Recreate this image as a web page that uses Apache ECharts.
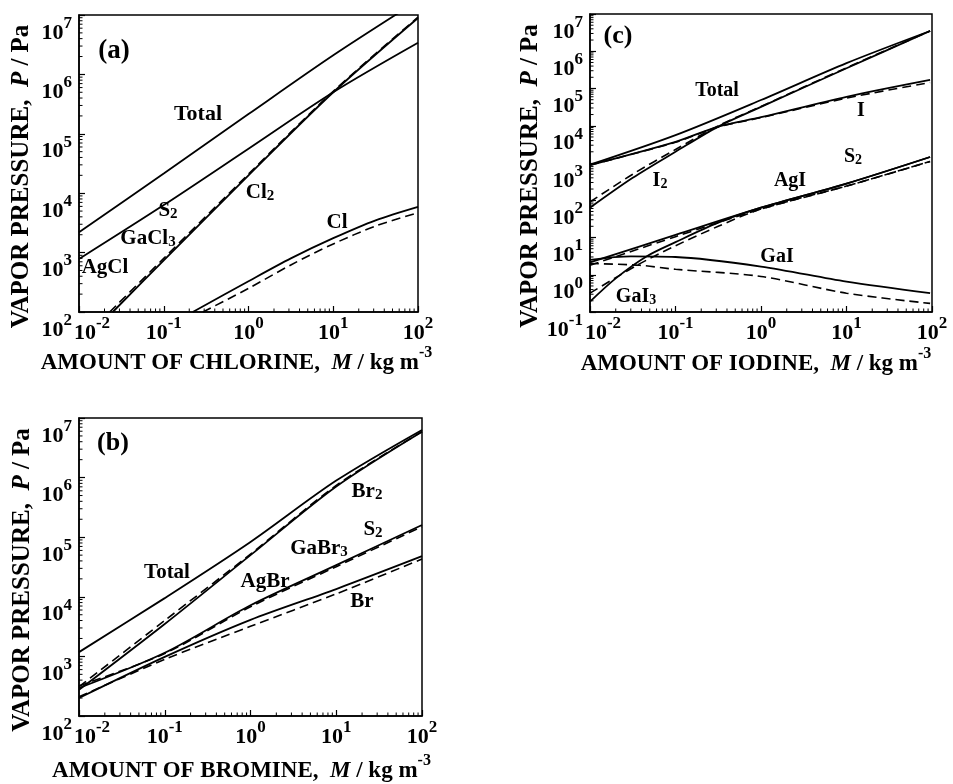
<!DOCTYPE html>
<html>
<head>
<meta charset="utf-8">
<title>Vapor pressure vs amount of halogen</title>
<script src="https://cdn.jsdelivr.net/npm/echarts@6/dist/echarts.min.js"></script>
<style>
  html, body { margin: 0; padding: 0; background: #fff; }
  #main { width: 953px; height: 784px; }
</style>
</head>
<body>
<div id="main"></div>
<script>
// ---- panel (a): chlorine ----
const aTotalM = [0.01, 0.1, 1, 10, 100];
const aTotalP = [2200, 21500, 215000, 2.1e6, 1.75e7];
const aS2M = [0.01, 0.1, 1, 10, 100];
const aS2P = [780, 6300, 56000, 5.0e5, 3.4e6];
const aCl2M = [0.025, 0.1, 1, 10, 100];
const aCl2P = [100, 740, 20000, 5.0e5, 8.9e6];
const aCl2dM = [0.023, 0.1, 1, 10, 100];
const aCl2dP = [100, 800, 21000, 5.2e5, 9.2e6];
const aClM = [0.22, 1, 3.16, 10, 31.6, 100];
const aClP = [100, 330, 800, 1750, 3500, 5900];
const aCldM = [0.29, 1, 3.16, 10, 31.6, 100];
const aCldP = [100, 250, 620, 1400, 2800, 4700];

// ---- panel (b): bromine ----
const bM = [0.01, 0.1, 1, 10, 100];
const bTotalP = [1180, 9500, 83000, 8.9e5, 6.3e6];
const bBr2P = [275, 3500, 50000, 7.1e5, 5.9e6];
const bBr2dP = [310, 4000, 52000, 7.4e5, 5.9e6];
const bS2P = [295, 1150, 7200, 34000, 1.6e5];
const bS2dP = [320, 1120, 6800, 32000, 1.5e5];
const bBrP = [200, 980, 4100, 13500, 48000];
const bBrdP = [210, 890, 3200, 11200, 43000];

// ---- panel (c): iodine ----
const cTotalM = [0.01, 0.1, 1, 10, 95];
const cTotalP = [900, 5600, 49000, 4.8e5, 3.5e6];
const cI2M = [0.01, 0.0316, 0.1, 0.316, 1, 10, 95];
const cI2P = [63, 400, 2000, 9500, 32000, 3.5e5, 3.5e6];
const cI2dP = [90, 500, 2300, 10000, 33000, 3.6e5, 3.5e6];
const cIM = [0.01, 0.1, 0.316, 1, 10, 95];
const cIP = [880, 3700, 9500, 17000, 60000, 1.7e5];
const cIdP = [880, 3600, 9300, 16500, 55000, 1.45e5];
const cS2M = [0.01, 0.1, 1, 10, 95];
const cS2P = [2.15, 11.7, 63, 280, 1450];
const cS2dP = [1.8, 10.5, 58, 240, 1100];
const cGaI3M = [0.01, 0.02, 0.0457, 0.1, 0.316, 1, 10, 95];
const cGaI3P = [0.19, 0.8, 3.1, 7.5, 25, 63, 280, 1450];
const cGaI3dM = [0.01, 0.0355, 0.1, 0.316, 1, 10, 95];
const cGaI3dP = [0.32, 1.8, 6, 20, 58, 240, 1100];
const cGaIM = [0.01, 0.03, 0.1, 1, 10, 95];
const cGaIP = [2.5, 3.1, 3.0, 1.66, 0.65, 0.32];
const cGaIdM = [0.01, 0.038, 0.1, 1, 10, 95];
const cGaIdP = [2.0, 1.8, 1.4, 0.9, 0.32, 0.17];

// tick values
const xMajor = [0.01, 0.1, 1, 10, 100];
const yMajorAB = [1e2, 1e3, 1e4, 1e5, 1e6, 1e7];
const yMajorC = [1e-1, 1, 10, 1e2, 1e3, 1e4, 1e5, 1e6, 1e7];

const FONT = '"Liberation Serif", "Times New Roman", serif';

function zip(m, p) {
  return m.map((v, i) => [v, p[i]]);
}
// 2..9 inside every decade of a tick list
function minorsOf(major) {
  const out = [];
  for (let i = 0; i < major.length - 1; i++) {
    for (let k = 2; k <= 9; k++) out.push(+(k * major[i]).toPrecision(3));
  }
  return out;
}

const supRich = {
  b: { fontFamily: FONT, fontWeight: 'bold', fontSize: 22, lineHeight: 29, verticalAlign: 'bottom', color: '#000' },
  p: { fontFamily: FONT, fontWeight: 'bold', fontSize: 22, lineHeight: 29, verticalAlign: 'bottom', color: '#000', padding: [0, 0, 0, 26] },
  s: { fontFamily: FONT, fontWeight: 'bold', fontSize: 17, lineHeight: 17, verticalAlign: 'top', color: '#000' }
};
function nameRich(size) {
  return {
    t: { fontFamily: FONT, fontWeight: 'bold', fontSize: size, lineHeight: size + 7, verticalAlign: 'bottom', color: '#000' },
    i: { fontFamily: FONT, fontWeight: 'bold', fontStyle: 'italic', fontSize: size, lineHeight: size + 7, verticalAlign: 'bottom', color: '#000' },
    s: { fontFamily: FONT, fontWeight: 'bold', fontSize: 16, lineHeight: 16, verticalAlign: 'top', color: '#000' }
  };
}
function yLabel(v) {
  const e = Math.round(Math.log10(v));
  return '{b|10}{s|' + e + '}';
}
// first label on the x axis is pushed right, clear of the y labels
function xLabel(v) {
  const e = Math.round(Math.log10(v));
  return (e === -2 ? '{p|10}' : '{b|10}') + '{s|' + e + '}';
}

function xAxis(g, name, gap, shift) {
  return {
    type: 'log', gridIndex: g, position: 'bottom', min: 0.01, max: 100,
    axisLine: { lineStyle: { color: '#000', width: 1.5 } },
    axisTick: { inside: true, length: 6, lineStyle: { color: '#000', width: 1.2 } },
    axisLabel: { formatter: xLabel, rich: supRich, margin: 3 },
    splitLine: { show: false },
    name: name, nameLocation: 'middle', nameGap: gap,
    nameTextStyle: { rich: nameRich(23), padding: [0, shift, 0, 0] }
  };
}
function yAxis(g, major, gap) {
  return {
    type: 'log', gridIndex: g, position: 'left', min: major[0], max: major[major.length - 1],
    axisLine: { lineStyle: { color: '#000', width: 1.5 } },
    axisTick: { inside: true, length: 6, lineStyle: { color: '#000', width: 1.2 } },
    axisLabel: { formatter: yLabel, rich: supRich, margin: 7, verticalAlign: 'top' },
    splitLine: { show: false },
    name: '{t|VAPOR PRESSURE,  }{i|P}{t| / Pa}', nameLocation: 'middle', nameGap: gap,
    nameTextStyle: { rich: nameRich(25), padding: [0, 26, 0, 0] }
  };
}

function line(g, m, p, dashed) {
  return {
    type: 'line', xAxisIndex: g, yAxisIndex: g,
    data: zip(m, p), showSymbol: false, smooth: 0.3, silent: true,
    lineStyle: { color: '#000', width: dashed ? 1.6 : 1.8, type: dashed ? [9, 5] : 'solid' },
    z: dashed ? 2 : 3
  };
}

// short inward log minor ticks (2..9 of each decade), placed through the axis scales
function minorTicks(g, xVals, yVals, xMin, yMin) {
  const data = xVals.map(v => [v, yMin, 0]).concat(yVals.map(v => [xMin, v, 1]));
  return {
    type: 'custom', xAxisIndex: g, yAxisIndex: g, silent: true, z: 5,
    data: data,
    renderItem: function (params, api) {
      const p = api.coord([api.value(0), api.value(1)]);
      const onY = api.value(2) === 1;
      return {
        type: 'line',
        shape: { x1: p[0], y1: p[1], x2: onY ? p[0] + 3.5 : p[0], y2: onY ? p[1] : p[1] - 3.5 },
        style: { stroke: '#000', lineWidth: 1 }
      };
    }
  };
}

// species labels: {n|...} normal, {d|..} small digit
function tag(x, y, text, size) {
  const fs = size || 21;
  return {
    type: 'text', x: x, y: y, z: 100,
    style: {
      text: text, align: 'center', verticalAlign: 'middle',
      rich: {
        n: { fontFamily: FONT, fontWeight: 'bold', fontSize: fs, lineHeight: fs + 2, verticalAlign: 'bottom', fill: '#000' },
        d: { fontFamily: FONT, fontWeight: 'bold', fontSize: fs - 6, lineHeight: fs - 6, verticalAlign: 'bottom', fill: '#000' }
      }
    }
  };
}

const chart = echarts.init(document.getElementById('main'), null, { renderer: 'canvas' });

const option = {
  backgroundColor: '#fff',
  animation: false,
  grid: [
    { left: 79, top: 15, width: 339, height: 297, show: true, borderColor: '#000', borderWidth: 1.5 },
    { left: 590, top: 14, width: 342, height: 298, show: true, borderColor: '#000', borderWidth: 1.5 },
    { left: 79, top: 418, width: 343, height: 298, show: true, borderColor: '#000', borderWidth: 1.5 }
  ],
  xAxis: [
    xAxis(0, '{t|AMOUNT OF CHLORINE,  }{i|M}{t| / kg m}{s|-3}', 21, 24),
    xAxis(1, '{t|AMOUNT OF IODINE,  }{i|M}{t| / kg m}{s|-3}', 34, 10),
    xAxis(2, '{t|AMOUNT OF BROMINE,  }{i|M}{t| / kg m}{s|-3}', 37, 18)
  ],
  yAxis: [yAxis(0, yMajorAB, 45), yAxis(1, yMajorC, 46), yAxis(2, yMajorAB, 44)],
  series: [
    line(0, aTotalM, aTotalP), line(0, aS2M, aS2P),
    line(0, aCl2M, aCl2P), line(0, aCl2dM, aCl2dP, true),
    line(0, aClM, aClP), line(0, aCldM, aCldP, true),

    line(1, cTotalM, cTotalP),
    line(1, cI2M, cI2P), line(1, cI2M, cI2dP, true),
    line(1, cIM, cIP), line(1, cIM, cIdP, true),
    line(1, cS2M, cS2P), line(1, cS2M, cS2dP, true),
    line(1, cGaI3M, cGaI3P), line(1, cGaI3dM, cGaI3dP, true),
    line(1, cGaIM, cGaIP), line(1, cGaIdM, cGaIdP, true),

    line(2, bM, bTotalP),
    line(2, bM, bBr2P), line(2, bM, bBr2dP, true),
    line(2, bM, bS2P), line(2, bM, bS2dP, true),
    line(2, bM, bBrP), line(2, bM, bBrdP, true),

    minorTicks(0, minorsOf(xMajor), minorsOf(yMajorAB), 0.01, 1e2),
    minorTicks(1, minorsOf(xMajor), minorsOf(yMajorC), 0.01, 1e-1),
    minorTicks(2, minorsOf(xMajor), minorsOf(yMajorAB), 0.01, 1e2)
  ],
  graphic: [
    tag(114, 50, '{n|(a)}', 27),
    tag(198, 113, '{n|Total}', 22),
    tag(168, 210, '{n|S}{d|2}'),
    tag(148, 238, '{n|GaCl}{d|3}'),
    tag(105, 267, '{n|AgCl}'),
    tag(260, 192, '{n|Cl}{d|2}'),
    tag(337, 222, '{n|Cl}'),

    tag(618, 35, '{n|(c)}', 26),
    tag(717, 90, '{n|Total}', 20),
    tag(861, 110, '{n|I}', 20),
    tag(853, 156, '{n|S}{d|2}', 20),
    tag(660, 180, '{n|I}{d|2}', 20),
    tag(790, 180, '{n|AgI}', 20),
    tag(777, 256, '{n|GaI}', 20),
    tag(636, 296, '{n|GaI}{d|3}', 20),

    tag(113, 442, '{n|(b)}', 26),
    tag(167, 572, '{n|Total}'),
    tag(265, 581, '{n|AgBr}'),
    tag(319, 548, '{n|GaBr}{d|3}'),
    tag(367, 491, '{n|Br}{d|2}'),
    tag(373, 529, '{n|S}{d|2}'),
    tag(362, 601, '{n|Br}')
  ]
};

chart.setOption(option);
</script>
</body>
</html>
